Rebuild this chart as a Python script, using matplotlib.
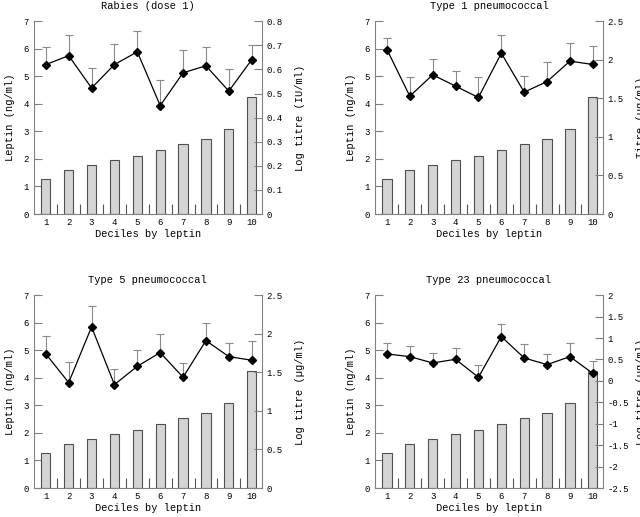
import matplotlib
matplotlib.use('Agg')
import matplotlib.pyplot as plt
import numpy as np

plt.rcParams['font.family'] = ['Liberation Mono', 'DejaVu Sans Mono']

# deciles and leptin bars (same for all panels)
deciles = [1, 2, 3, 4, 5, 6, 7, 8, 9, 10]
leptin = [1.26, 1.61, 1.77, 1.95, 2.12, 2.31, 2.53, 2.74, 3.08, 4.25]

# antibody response per decile: mean and upper error bar
rabies = [0.620, 0.657, 0.523, 0.620, 0.673, 0.450, 0.586, 0.615, 0.510, 0.640]
rabies_err = [0.692, 0.744, 0.605, 0.707, 0.758, 0.554, 0.682, 0.692, 0.601, 0.703]

type1 = [2.133, 1.528, 1.805, 1.658, 1.511, 2.085, 1.580, 1.718, 1.982, 1.939]
type1_err = [2.288, 1.783, 2.016, 1.857, 1.783, 2.327, 1.796, 1.973, 2.211, 2.172]

type5 = [1.739, 1.367, 2.089, 1.341, 1.579, 1.756, 1.436, 1.912, 1.704, 1.657]
type5_err = [1.968, 1.630, 2.362, 1.548, 1.795, 1.994, 1.622, 2.141, 1.877, 1.907]

type23 = [0.629, 0.567, 0.419, 0.505, 0.084, 1.034, 0.536, 0.380, 0.567, 0.174]
type23_err = [0.894, 0.824, 0.653, 0.762, 0.364, 1.338, 0.855, 0.637, 0.894, 0.467]

panels = [
    ('Rabies (dose 1)', 'Log titre (IU/ml)', rabies, rabies_err, (0, 0.8), np.arange(0, 0.81, 0.1),
     ['0', '0.1', '0.2', '0.3', '0.4', '0.5', '0.6', '0.7', '0.8']),
    ('Type 1 pneumococcal', 'Titre (\u00b5g/ml)', type1, type1_err, (0, 2.5), np.arange(0, 2.51, 0.5),
     ['0', '0.5', '1', '1.5', '2', '2.5']),
    ('Type 5 pneumococcal', 'Log titre (\u00b5g/ml)', type5, type5_err, (0, 2.5), np.arange(0, 2.51, 0.5),
     ['0', '0.5', '1', '1.5', '2', '2.5']),
    ('Type 23 pneumococcal', 'Log titre (\u00b5g/ml)', type23, type23_err, (-2.5, 2), np.arange(-2.5, 2.01, 0.5),
     ['-2.5', '-2', '-1.5', '-1', '-0.5', '0', '0.5', '1', '1.5', '2']),
]

positions = [
    [0.053, 0.586, 0.356, 0.373],
    [0.586, 0.586, 0.356, 0.373],
    [0.053, 0.056, 0.356, 0.373],
    [0.586, 0.056, 0.356, 0.373],
]

spine_col = '#808080'
fig = plt.figure(figsize=(6.4, 5.17), dpi=100)

for (title, rlabel, vals, errs, rlim, rticks, rticklabels), pos in zip(panels, positions):
    ax = fig.add_axes(pos)
    ax.bar(deciles, leptin, width=0.4, color='#d4d4d4', edgecolor='#505050', linewidth=0.8, zorder=2)
    ax.set_xlim(0.48, 10.44)
    ax.set_ylim(0, 7)
    ax.set_xticks(deciles)
    ax.set_xticks(np.arange(1.5, 10, 1), minor=True)
    ax.tick_params(axis='x', which='major', length=0, labelsize=6.5, pad=3)
    ax.tick_params(axis='x', which='minor', direction='in', length=7, width=0.8, color='#555555')
    ax.tick_params(axis='y', direction='in', length=6, width=0.8, color=spine_col, labelsize=6.5)
    ax.set_yticks(range(0, 8))
    for s in ['top', 'right']:
        ax.spines[s].set_visible(False)
    for s in ['left', 'bottom']:
        ax.spines[s].set_color(spine_col)
    ax.set_title(title, fontsize=7.5, pad=9)
    ax.set_xlabel('Deciles by leptin', fontsize=7.5, labelpad=1)
    ax.set_ylabel('Leptin (ng/ml)', fontsize=7.5, labelpad=6)

    ax2 = ax.twinx()
    ax2.set_ylim(*rlim)
    ax2.set_yticks(rticks)
    ax2.set_yticklabels(rticklabels)
    ax2.tick_params(axis='y', direction='in', length=6, width=0.8, color=spine_col, labelsize=6.5)
    for s in ['top', 'left', 'bottom']:
        ax2.spines[s].set_visible(False)
    ax2.spines['right'].set_color(spine_col)
    upper = np.array(errs) - np.array(vals)
    ax2.errorbar(deciles, vals, yerr=[np.zeros(len(vals)), upper], fmt='none',
                 ecolor='#8a8a8a', elinewidth=0.8, capsize=3, capthick=0.8, zorder=3)
    ax2.plot(deciles, vals, color='black', linewidth=0.9, marker='D', markersize=4,
             markerfacecolor='black', zorder=4)
    ax2.set_ylabel(rlabel, fontsize=7.5)
    ax2.yaxis.set_label_coords(1.145, 0.5)

fig.savefig('out.png', dpi=100)
